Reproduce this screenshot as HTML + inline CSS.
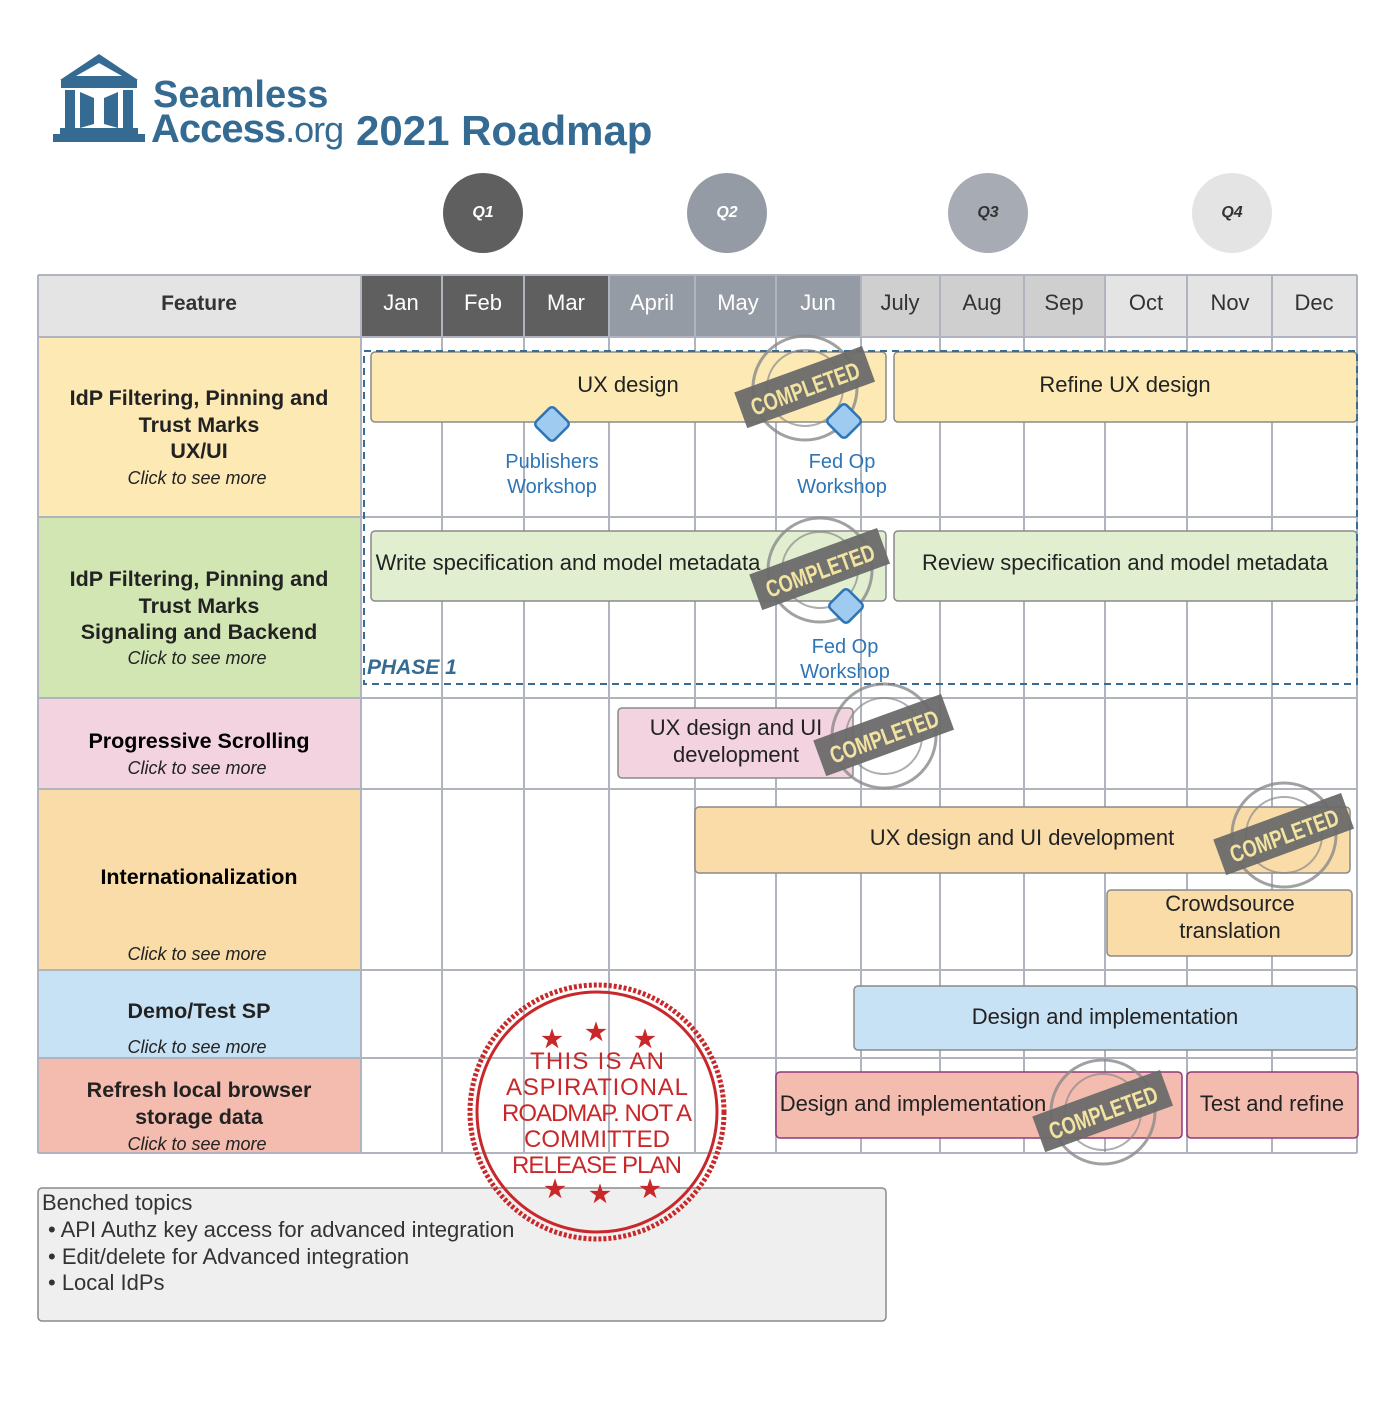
<!DOCTYPE html>
<html><head><meta charset="utf-8"><style>
html,body{margin:0;padding:0;background:#fff;}
svg text{font-family:"Liberation Sans",sans-serif;}
</style></head><body>
<svg width="1400" height="1400" viewBox="0 0 1400 1400" xmlns="http://www.w3.org/2000/svg">
<!-- logo -->
<g fill="#356b92">
<polygon points="99,54 138,80 60,80"/>
<polygon points="99,63 122,76 76,76" fill="#fff"/>
<rect x="61" y="80" width="76" height="8"/>
<rect x="65" y="90" width="10" height="38"/>
<rect x="123" y="90" width="10" height="38"/>
<polygon points="80,92 94,98 94,124 80,128"/>
<polygon points="118,92 104,98 104,124 118,128"/>
<rect x="60" y="128" width="78" height="6"/>
<rect x="53" y="134" width="92" height="8"/>
</g>
<text x="153" y="107" font-size="38" font-weight="bold" fill="#356b92">Seamless</text>
<text x="151" y="142" font-size="40" font-weight="bold" fill="#356b92" letter-spacing="-1">Access<tspan font-weight="normal" font-size="36">.org</tspan></text>
<text x="356" y="145" font-size="42" font-weight="bold" fill="#356b92">2021 Roadmap</text>
<!-- quarter circles -->
<circle cx="483" cy="213" r="40" fill="#5f5f5f"/><text x="483" y="217" font-size="16" font-weight="bold" font-style="italic" fill="#fff" text-anchor="middle">Q1</text>
<circle cx="727" cy="213" r="40" fill="#959ba5"/><text x="727" y="217" font-size="16" font-weight="bold" font-style="italic" fill="#fff" text-anchor="middle">Q2</text>
<circle cx="988" cy="213" r="40" fill="#a7abb3"/><text x="988" y="217" font-size="16" font-weight="bold" font-style="italic" fill="#333" text-anchor="middle">Q3</text>
<circle cx="1232" cy="213" r="40" fill="#e4e4e4"/><text x="1232" y="217" font-size="16" font-weight="bold" font-style="italic" fill="#333" text-anchor="middle">Q4</text>
<!-- header -->
<rect x="38" y="275" width="323" height="62" fill="#e4e4e4"/>
<text x="199" y="310" font-size="21" font-weight="bold" fill="#333" text-anchor="middle">Feature</text>
<g font-size="22" text-anchor="middle">
<rect x="361" y="275" width="248" height="62" fill="#5f5f5f"/>
<rect x="609" y="275" width="252" height="62" fill="#959ba5"/>
<rect x="861" y="275" width="244" height="62" fill="#cfcfcf"/>
<rect x="1105" y="275" width="252" height="62" fill="#e4e4e4"/>
<text x="401" y="310" fill="#fff">Jan</text><text x="483" y="310" fill="#fff">Feb</text><text x="566" y="310" fill="#fff">Mar</text>
<text x="652" y="310" fill="#fff">April</text><text x="738" y="310" fill="#fff">May</text><text x="818" y="310" fill="#fff">Jun</text>
<text x="900" y="310" fill="#333">July</text><text x="982" y="310" fill="#333">Aug</text><text x="1064" y="310" fill="#333">Sep</text>
<text x="1146" y="310" fill="#333">Oct</text><text x="1230" y="310" fill="#333">Nov</text><text x="1314" y="310" fill="#333">Dec</text>
</g>
<!-- feature column -->
<rect x="38" y="337" width="323" height="180" fill="#fce9b3"/>
<rect x="38" y="517" width="323" height="181" fill="#d2e6b3"/>
<rect x="38" y="698" width="323" height="91" fill="#f2d3df"/>
<rect x="38" y="789" width="323" height="181" fill="#fadca8"/>
<rect x="38" y="970" width="323" height="88" fill="#c8e2f5"/>
<rect x="38" y="1058" width="323" height="95" fill="#f4bcae"/>
<!-- grid -->
<g stroke="#b0b4be" stroke-width="2">
<line x1="361" y1="275" x2="361" y2="1153"/><line x1="442" y1="275" x2="442" y2="1153"/><line x1="524" y1="275" x2="524" y2="1153"/>
<line x1="609" y1="275" x2="609" y2="1153"/><line x1="695" y1="275" x2="695" y2="1153"/><line x1="776" y1="275" x2="776" y2="1153"/>
<line x1="861" y1="275" x2="861" y2="1153"/><line x1="940" y1="275" x2="940" y2="1153"/><line x1="1024" y1="275" x2="1024" y2="1153"/>
<line x1="1105" y1="275" x2="1105" y2="1153"/><line x1="1187" y1="275" x2="1187" y2="1153"/><line x1="1272" y1="275" x2="1272" y2="1153"/>
<line x1="1357" y1="275" x2="1357" y2="1153"/><line x1="38" y1="275" x2="38" y2="1153"/>
<line x1="38" y1="275" x2="1357" y2="275"/><line x1="38" y1="337" x2="1357" y2="337"/><line x1="38" y1="517" x2="1357" y2="517"/>
<line x1="38" y1="698" x2="1357" y2="698"/><line x1="38" y1="789" x2="1357" y2="789"/><line x1="38" y1="970" x2="1357" y2="970"/>
<line x1="38" y1="1058" x2="1357" y2="1058"/><line x1="38" y1="1153" x2="1357" y2="1153"/>
</g>
<!-- feature labels -->
<g text-anchor="middle" fill="#222">
<text x="199" y="405" font-size="21.5" font-weight="bold">IdP Filtering, Pinning and</text>
<text x="199" y="432" font-size="21.5" font-weight="bold">Trust Marks</text>
<text x="199" y="458" font-size="21.5" font-weight="bold">UX/UI</text>
<text x="197" y="484" font-size="18" font-style="italic">Click to see more</text>
<text x="199" y="586" font-size="21.5" font-weight="bold">IdP Filtering, Pinning and</text>
<text x="199" y="613" font-size="21.5" font-weight="bold">Trust Marks</text>
<text x="199" y="639" font-size="21.5" font-weight="bold">Signaling and Backend</text>
<text x="197" y="664" font-size="18" font-style="italic">Click to see more</text>
<text x="199" y="748" font-size="21.5" font-weight="bold" fill="#000">Progressive Scrolling</text>
<text x="197" y="774" font-size="18" font-style="italic">Click to see more</text>
<text x="199" y="884" font-size="21.5" font-weight="bold" fill="#000">Internationalization</text>
<text x="197" y="960" font-size="18" font-style="italic">Click to see more</text>
<text x="199" y="1018" font-size="21.5" font-weight="bold">Demo/Test SP</text>
<text x="197" y="1053" font-size="18" font-style="italic">Click to see more</text>
<text x="199" y="1097" font-size="21.5" font-weight="bold">Refresh local browser</text>
<text x="199" y="1124" font-size="21.5" font-weight="bold">storage data</text>
<text x="197" y="1150" font-size="18" font-style="italic">Click to see more</text>
</g>
<!-- bars -->
<g stroke="#8a8a8a" stroke-width="1.5">
<rect x="371" y="352" width="515" height="70" rx="4" fill="#fce9b3"/>
<rect x="894" y="352" width="463" height="70" rx="4" fill="#fce9b3"/>
<rect x="371" y="531" width="515" height="70" rx="4" fill="#e1efd0"/>
<rect x="894" y="531" width="463" height="70" rx="4" fill="#e1efd0"/>
<rect x="618" y="708" width="235" height="70" rx="4" fill="#f2d3df"/>
<rect x="695" y="807" width="655" height="66" rx="4" fill="#fadca8"/>
<rect x="1107" y="890" width="245" height="66" rx="4" fill="#fadca8"/>
<rect x="854" y="986" width="503" height="64" rx="4" fill="#c8e2f5"/>
<rect x="776" y="1072" width="406" height="66" rx="4" fill="#f4bcae" stroke="#8b3a7a"/>
<rect x="1187" y="1072" width="171" height="66" rx="4" fill="#f4bcae" stroke="#8b3a7a"/>
</g>
<g font-size="22" fill="#222" text-anchor="middle">
<text x="628" y="392">UX design</text>
<text x="1125" y="392">Refine UX design</text>
<text x="568" y="570">Write specification and model metadata</text>
<text x="1125" y="570">Review specification and model metadata</text>
<text x="736" y="735">UX design and UI</text><text x="736" y="762">development</text>
<text x="1022" y="845">UX design and UI development</text>
<text x="1230" y="911">Crowdsource</text><text x="1230" y="938">translation</text>
<text x="1105" y="1024">Design and implementation</text>
<text x="913" y="1111">Design and implementation</text>
<text x="1272" y="1111">Test and refine</text>
</g>
<!-- phase 1 -->
<rect x="364" y="351" width="993" height="333" fill="none" stroke="#3a6b93" stroke-width="2" stroke-dasharray="7,5"/>
<text x="367" y="674" font-size="21" font-style="italic" font-weight="bold" fill="#356b92">PHASE 1</text>
<!-- completed stamps -->
<defs>
<g id="stamp">
<circle cx="0" cy="0" r="52" fill="none" stroke="#8a8a8a" stroke-width="3" opacity="0.8"/>
<circle cx="0" cy="0" r="38" fill="none" stroke="#8a8a8a" stroke-width="2" opacity="0.7"/>
<g transform="rotate(-20)">
<rect x="-68" y="-20" width="136" height="38" fill="#6a6a6a" opacity="0.95"/>
<text x="0" y="9" font-size="24" font-weight="bold" fill="#f2e3a0" text-anchor="middle" font-family="Liberation Sans, sans-serif" textLength="114" lengthAdjust="spacingAndGlyphs">COMPLETED</text>
</g>
</g>
</defs>
<use href="#stamp" x="805" y="388"/>
<use href="#stamp" x="820" y="570"/>
<use href="#stamp" x="884" y="736"/>
<use href="#stamp" x="1284" y="835"/>
<use href="#stamp" x="1103" y="1112"/>
<!-- diamonds -->
<g fill="#9fcbf0" stroke="#2e75b6" stroke-width="2.5">
<rect x="-13" y="-13" width="26" height="26" rx="4" transform="translate(552,424) rotate(45)"/>
<rect x="-13" y="-13" width="26" height="26" rx="4" transform="translate(844,421) rotate(45)"/>
<rect x="-13" y="-13" width="26" height="26" rx="4" transform="translate(846,606) rotate(45)"/>
</g>
<g font-size="20" fill="#2e75b6" text-anchor="middle">
<text x="552" y="468">Publishers</text><text x="552" y="493">Workshop</text>
<text x="842" y="468">Fed Op</text><text x="842" y="493">Workshop</text>
<text x="845" y="653">Fed Op</text><text x="845" y="678">Workshop</text>
</g>
<!-- benched -->
<rect x="38" y="1188" width="848" height="133" rx="4" fill="#efefef" stroke="#8a8a8a" stroke-width="1.5"/>
<g font-size="22" fill="#333">
<text x="42" y="1210">Benched topics</text>
<text x="48" y="1237">• API Authz key access for advanced integration</text>
<text x="48" y="1264">• Edit/delete for Advanced  integration</text>
<text x="48" y="1290">• Local IdPs</text>
</g>
<!-- red stamp -->
<g fill="none" stroke="#c8282a">
<circle cx="597" cy="1112" r="127" stroke-width="5" stroke-dasharray="3,2"/>
<circle cx="597" cy="1112" r="120" stroke-width="3"/>
</g>
<g fill="#c8282a" font-size="24" text-anchor="middle" font-family="Liberation Sans, sans-serif" font-weight="bold">
<text x="552" y="1047">★</text><text x="596" y="1040">★</text><text x="645" y="1047">★</text>
<text x="555" y="1197">★</text><text x="600" y="1202">★</text><text x="650" y="1197">★</text>
<g font-size="24" font-weight="normal" font-family="DejaVu Sans, sans-serif">
<text x="597" y="1069" textLength="134">THIS IS AN</text>
<text x="597" y="1095" textLength="182">ASPIRATIONAL</text>
<text x="597" y="1121" textLength="190">ROADMAP. NOT A</text>
<text x="597" y="1147" textLength="146">COMMITTED</text>
<text x="597" y="1173" textLength="170">RELEASE PLAN</text>
</g>
</g>
</svg>
</body></html>
